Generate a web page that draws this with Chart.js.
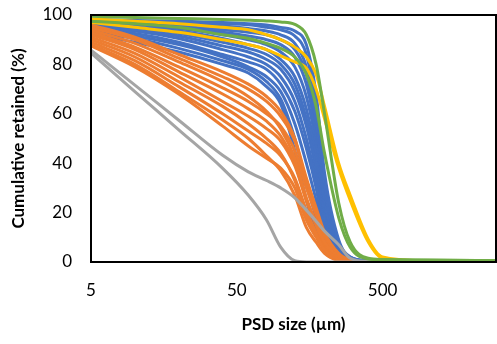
<!DOCTYPE html>
<html>
<head>
<meta charset="utf-8">
<script src="https://cdn.jsdelivr.net/npm/chart.js@4"></script>
<style>
    html, body { margin: 0; padding: 0; background: #fff; }
    #wrap { width: 497px; height: 344px; position: relative; }
</style>
</head>
<body>
<div id="wrap"><canvas id="psd"></canvas></div>
<script>
// Sieve sizes (µm) shared by every curve
const sizes = [5, 10, 20, 40, 60, 80, 100, 125, 150, 175, 200, 250, 300, 400, 500, 1000, 3000];

// Cumulative retained (%) per sample, grouped by colour
const blueCurves = [
    [98, 97.8, 97.5, 97, 96.5, 96, 95, 93.5, 88, 68, 36, 9, 2, 0.5, 0.2, 0, 0],
    [97.8, 97.5, 97, 96.5, 96, 95, 94, 91.5, 84, 63, 32, 8, 2, 0.4, 0.2, 0, 0],
    [97.5, 97, 96.5, 95.5, 94.5, 93.5, 92, 88.5, 79, 58, 29, 7, 1.8, 0.4, 0, 0, 0],
    [97.5, 96.8, 95.5, 94, 93, 92, 90, 86, 76, 56, 26, 6, 1.5, 0.3, 0, 0, 0],
    [97, 96.3, 95, 93, 91.5, 90, 88, 83, 72, 52, 24, 6, 1.5, 0.3, 0, 0, 0],
    [97, 96, 94.5, 92, 90, 88, 85, 79, 67, 48, 22, 5, 1, 0.2, 0, 0, 0],
    [96.5, 95.5, 93.5, 90.5, 88, 86, 82, 75, 62, 44, 20, 4, 1, 0, 0, 0, 0],
    [96, 95, 92.5, 89, 86.5, 84, 80, 72, 58, 40, 18, 4, 0.8, 0, 0, 0, 0],
    [95.5, 94, 91.5, 87.5, 85, 82, 78, 69, 55, 37, 16, 3, 0.6, 0, 0, 0, 0],
    [95, 93.5, 90.5, 86, 83, 80, 75, 65, 50, 33, 14, 3, 0.5, 0, 0, 0, 0],
    [94.5, 92.5, 89, 84, 81, 78, 72, 61, 46, 30, 12, 2, 0.5, 0, 0, 0, 0],
    [94, 91.5, 88, 83, 79, 75, 69, 56, 40, 25, 10, 2, 0.3, 0, 0, 0, 0],
    [93, 90.5, 86.5, 81.5, 78, 73, 66, 50, 32, 18, 7, 1.5, 0.2, 0, 0, 0, 0],
    [92, 89, 85, 80, 76.5, 71, 64, 45, 25, 13, 5, 1, 0, 0, 0, 0, 0]
];
const orangeCurves = [
    [96, 91, 84, 77, 72, 67, 61, 50, 34, 22, 12, 3.5, 0.8, 0, 0, 0, 0],
    [95, 90, 82.5, 75, 70, 65, 59, 49, 33, 21, 11, 3, 0.6, 0, 0, 0, 0],
    [94, 88.5, 81, 73, 67, 61, 54, 42, 26, 16, 8, 2.5, 0.4, 0, 0, 0, 0],
    [93, 87, 79, 70.5, 65, 60, 55, 45, 30, 19, 10, 2.5, 0.3, 0, 0, 0, 0],
    [92, 86, 77, 68, 62, 57, 51, 40, 25, 15, 7.5, 2, 0.2, 0, 0, 0, 0],
    [91, 84.5, 75, 65, 59, 54, 49, 39, 25, 15, 7, 1.5, 0.2, 0, 0, 0, 0],
    [90, 83, 73, 63, 56, 50, 44, 33, 19, 11, 5, 1, 0, 0, 0, 0, 0],
    [89, 81.5, 71, 60, 53, 48, 43, 34, 21, 12, 5.5, 1.2, 0, 0, 0, 0, 0],
    [88, 80, 69, 57.5, 50, 43, 37, 27, 14, 8, 3.5, 0.5, 0, 0, 0, 0, 0],
    [87.5, 79, 68, 55, 47, 42, 38, 30, 17, 10, 5, 1, 0, 0, 0, 0, 0]
];
const grayCurves = [
    [85.8, 71.6, 57.4, 43.2, 36.5, 33, 30, 26, 21, 16.5, 12.5, 7, 1.5, 0.2, 0, 0, 0],
    [84.6, 69, 53.5, 37.9, 27, 17, 6, 0.5, 0, 0, 0, 0, 0, 0, 0, 0, 0]
];
const yellowCurves = [
    [98.5, 97.5, 96.5, 95, 94, 92, 90, 87, 83, 76, 63, 40, 27, 9, 2, 0.5, 0.3],
    [97, 95, 93, 90, 88, 86, 83.5, 81, 78.5, 70, 58, 38, 25, 8, 1.5, 0.3, 0.2]
];
const greenCurves = [
    [99.5, 99, 98.6, 98.2, 97.9, 97.6, 97.2, 96.2, 92, 80, 60, 24, 8, 1.5, 1, 0.8, 0.5],
    [97.5, 96.5, 95, 92, 90.5, 88.5, 86.5, 83, 76, 63, 44, 18, 6, 1.2, 0.9, 0.7, 0.5]
];

const xTicks = [5, 50, 500];

const palette = {
    blue: '#4472C4',
    orange: '#ED7D31',
    gray: '#A5A5A5',
    yellow: '#FFC000',
    green: '#70AD47'
};

// Build one dataset per curve; lower `order` is painted on top
function makeSets(curves, color, order) {
    return curves.map(values => ({
        data: values.map((v, i) => ({ x: sizes[i], y: v })),
        borderColor: color,
        borderWidth: 3,
        pointRadius: 0,
        fill: false,
        cubicInterpolationMode: 'monotone',
        order: order
    }));
}

const datasets = [
    ...makeSets(blueCurves, palette.blue, 4),
    ...makeSets(orangeCurves, palette.orange, 3),
    ...makeSets(grayCurves, palette.gray, 2),
    ...makeSets(yellowCurves, palette.yellow, 1),
    ...makeSets(greenCurves, palette.green, 0)
];

// Box around the plot area
const frame = {
    id: 'frame',
    afterDatasetsDraw(chart) {
        const { ctx, chartArea: a } = chart;
        ctx.save();
        ctx.strokeStyle = '#000';
        ctx.lineWidth = 2;
        ctx.strokeRect(a.left, a.top, a.right - a.left, a.bottom - a.top);
        ctx.restore();
    }
};

const tickFont = { family: 'Lato', size: 17 };
const titleFont = { family: 'Lato', size: 17, weight: 'bold' };

new Chart(document.getElementById('psd'), {
    type: 'line',
    data: { datasets },
    plugins: [frame],
    options: {
        responsive: true,
        maintainAspectRatio: false,
        animation: false,
        layout: { padding: { top: 15, right: 1, left: 0, bottom: 0 } },
        plugins: {
            legend: { display: false },
            tooltip: { enabled: false }
        },
        scales: {
            x: {
                type: 'logarithmic',
                min: 5,
                max: 3000,
                grid: { display: false },
                border: { display: false },
                afterBuildTicks: scale => {
                    scale.ticks = xTicks.map(v => ({ value: v }));
                },
                afterFit: scale => {
                    scale.height = 82;
                    scale.paddingLeft = 0;
                    scale.paddingRight = 0;
                },
                ticks: {
                    color: '#000',
                    font: tickFont,
                    padding: 10,
                    maxRotation: 0,
                    autoSkip: false,
                    callback: v => String(v)
                },
                title: {
                    display: true,
                    text: 'PSD size (µm)',
                    color: '#000',
                    font: titleFont,
                    padding: { top: 0, bottom: 9 }
                }
            },
            y: {
                min: 0,
                max: 100,
                grid: { display: false },
                border: { display: false },
                afterFit: scale => {
                    scale.width = 91;
                    scale.paddingTop = 0;
                    scale.paddingBottom = 0;
                },
                ticks: {
                    stepSize: 20,
                    color: '#000',
                    font: tickFont,
                    padding: 11
                },
                title: {
                    display: true,
                    text: 'Cumulative retained (%)',
                    color: '#000',
                    font: titleFont,
                    padding: { top: 8, bottom: 0 }
                }
            }
        }
    }
});
</script>
</body>
</html>
